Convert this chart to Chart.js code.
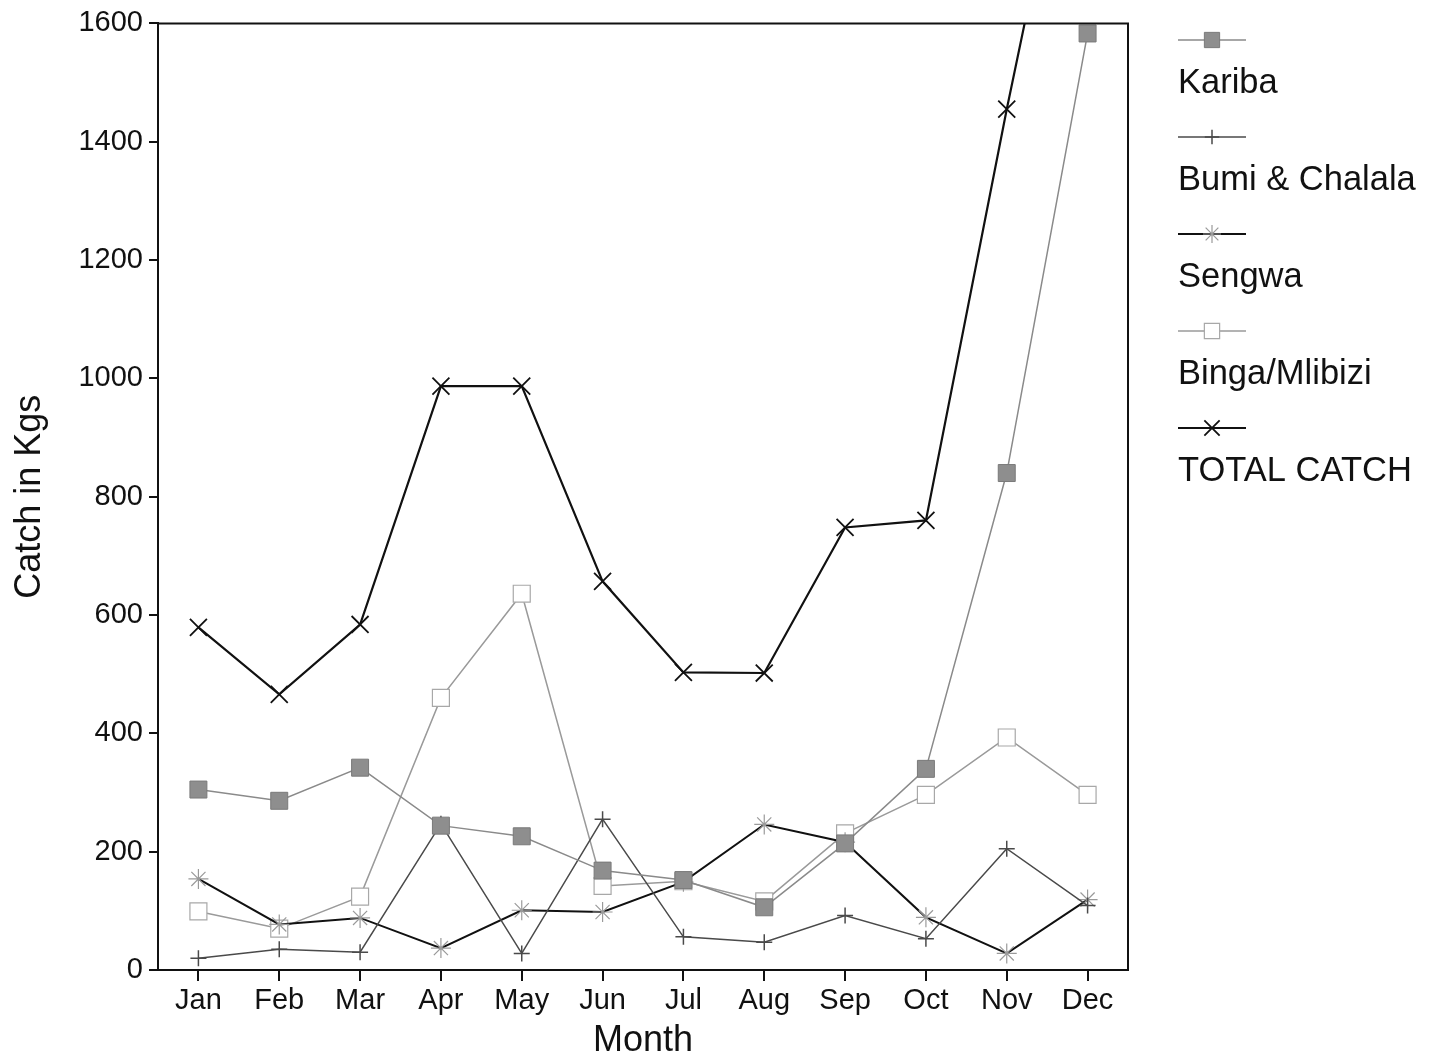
<!DOCTYPE html>
<html>
<head>
<meta charset="utf-8">
<script src="https://cdn.jsdelivr.net/npm/chart.js@4/dist/chart.umd.min.js"></script>
<style>
  html, body { margin: 0; padding: 0; background: #fff; }
  #wrap { width: 1448px; height: 1063px; position: relative; }
</style>
</head>
<body>
<div id="wrap"><canvas id="c" width="1448" height="1063"></canvas></div>
<script>
const months = ['Jan','Feb','Mar','Apr','May','Jun','Jul','Aug','Sep','Oct','Nov','Dec'];
const kariba = [305, 286, 342, 244, 226, 168, 152, 106, 214, 340, 840, 1583];
const bumiChalala = [20, 35, 30, 247, 28, 255, 56, 47, 92, 53, 205, 109];
const sengwa = [154, 77, 88, 37, 101, 98, 149, 246, 216, 89, 28, 119];
const binga = [99, 70, 124, 460, 636, 142, 150, 116, 231, 296, 393, 296];
const totalCatch = [579, 466, 584, 987, 987, 657, 503, 502, 748, 760, 1455, 2110];
const yTicks = [0, 200, 400, 600, 800, 1000, 1200, 1400, 1600];
const seriesNames = ['Kariba', 'Bumi & Chalala', 'Sengwa', 'Binga/Mlibizi', 'TOTAL CATCH'];

const FONT = "'Liberation Sans', Arial, Helvetica, sans-serif";

const datasets = [
  { label: seriesNames[0], data: kariba, borderColor: '#8a8a8a', borderWidth: 1.5,
    pointStyle: 'rect', pointRadius: 12, pointBackgroundColor: '#8e8e8e', pointBorderColor: '#7a7a7a', pointBorderWidth: 1 },
  { label: seriesNames[1], data: bumiChalala, borderColor: '#4a4a4a', borderWidth: 1.5,
    pointStyle: 'cross', pointRadius: 8, pointBackgroundColor: '#4a4a4a', pointBorderColor: '#4a4a4a', pointBorderWidth: 1.5 },
  { label: seriesNames[2], data: sengwa, borderColor: '#111', borderWidth: 2,
    pointStyle: 'star', pointRadius: 10, pointBackgroundColor: '#aaa', pointBorderColor: '#9a9a9a', pointBorderWidth: 1.2 },
  { label: seriesNames[3], data: binga, borderColor: '#9a9a9a', borderWidth: 1.5,
    pointStyle: 'rect', pointRadius: 12, pointBackgroundColor: '#fff', pointBorderColor: '#a8a8a8', pointBorderWidth: 1.2 },
  { label: seriesNames[4], data: totalCatch, borderColor: '#111', borderWidth: 2.2,
    pointStyle: 'crossRot', pointRadius: 12, pointBackgroundColor: '#111', pointBorderColor: '#111', pointBorderWidth: 1.8 }
];
datasets.forEach(d => { d.tension = 0; d.fill = false; d.pointHoverRadius = d.pointRadius; });

const framePlugin = {
  id: 'frame',
  afterDatasetsDraw(chart) {
    const a = chart.chartArea, ctx = chart.ctx;
    ctx.save();
    ctx.strokeStyle = '#111';
    ctx.lineWidth = 2;
    ctx.beginPath();
    ctx.moveTo(a.left, a.top); ctx.lineTo(a.right, a.top); ctx.lineTo(a.right, a.bottom);
    ctx.stroke();
    ctx.restore();
  }
};

const legendPlugin = {
  id: 'sideLegend',
  afterDraw(chart) {
    const ctx = chart.ctx;
    const x0 = 1178, x1 = 1246, y0 = 40, step = 97;
    ctx.save();
    chart.data.datasets.forEach((ds, i) => {
      const y = y0 + step * i;
      ctx.strokeStyle = ds.borderColor;
      ctx.lineWidth = Math.min(ds.borderWidth, 1.8);
      ctx.beginPath(); ctx.moveTo(x0, y); ctx.lineTo(x1, y); ctx.stroke();
      ctx.fillStyle = ds.pointBackgroundColor;
      ctx.strokeStyle = ds.pointBorderColor;
      ctx.lineWidth = ds.pointBorderWidth;
      Chart.helpers.drawPoint(ctx, { pointStyle: ds.pointStyle, radius: ds.pointRadius * 0.9, rotation: 0, borderWidth: ds.pointBorderWidth }, (x0 + x1) / 2, y);
      ctx.fillStyle = '#111';
      ctx.font = '34.5px ' + FONT;
      ctx.textAlign = 'left';
      ctx.textBaseline = 'middle';
      ctx.fillText(ds.label, x0, y + 43);
    });
    ctx.restore();
  }
};

new Chart(document.getElementById('c'), {
  type: 'line',
  data: { labels: months, datasets },
  options: {
    responsive: false,
    animation: false,
    devicePixelRatio: 1,
    layout: { padding: { left: 0, top: 20, right: 320, bottom: 0 } },
    plugins: { legend: { display: false }, tooltip: { enabled: false } },
    scales: {
      x: {
        type: 'category',
        offset: true,
        grid: { offset: false, drawOnChartArea: false, drawTicks: true, tickLength: 11, color: '#111', lineWidth: 2 },
        border: { display: true, color: '#111', width: 2 },
        ticks: { color: '#111', font: { family: FONT, size: 29 }, padding: 3, maxRotation: 0, autoSkip: false },
        title: { display: true, text: 'Month', color: '#111', font: { family: FONT, size: 36 }, padding: { top: 0, bottom: 0 } },
        afterFit(scale) { scale.height = 93; }
      },
      y: {
        min: 0, max: 1600,
        afterBuildTicks(scale) { scale.ticks = yTicks.map(v => ({ value: v })); },
        grid: { drawOnChartArea: false, drawTicks: true, tickLength: 9, color: '#111', lineWidth: 2 },
        border: { display: true, color: '#111', width: 2 },
        ticks: { color: '#111', font: { family: FONT, size: 29 }, padding: 6, callback: v => String(v) },
        title: { display: true, text: 'Catch in Kgs', color: '#111', font: { family: FONT, size: 36 }, padding: { top: 8, bottom: 0 } },
        afterFit(scale) { scale.width = 158; }
      }
    }
  },
  plugins: [framePlugin, legendPlugin]
});
</script>
</body>
</html>
